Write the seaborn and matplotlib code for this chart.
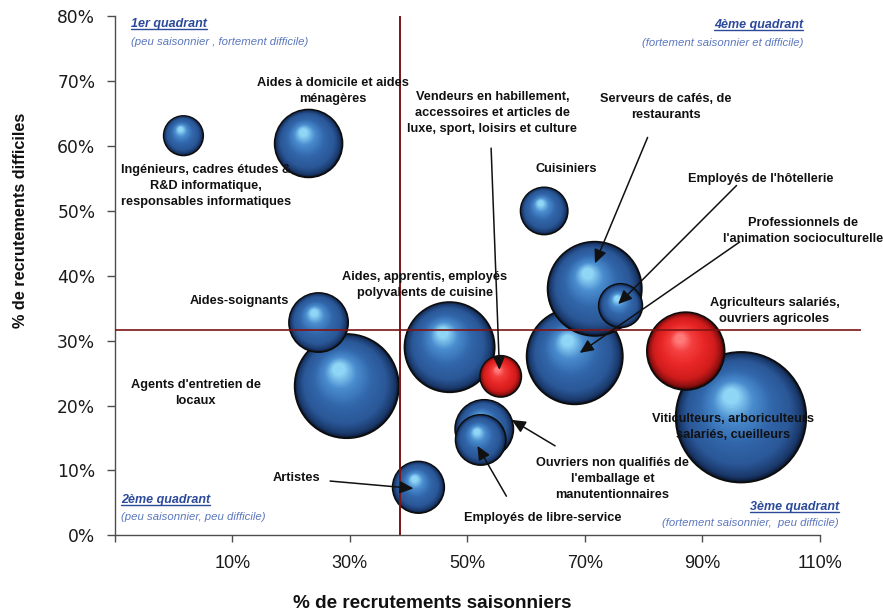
import numpy as np
import pandas as pd
import matplotlib
matplotlib.use("Agg")
import matplotlib.pyplot as plt
import seaborn as sns
from matplotlib import font_manager
from matplotlib.colors import to_rgb, to_hex
from matplotlib.lines import Line2D
from matplotlib.transforms import offset_copy

# ---------------------------------------------------------------- données
metiers = [
    "Ingénieurs, cadres études & R&D informatique, responsables informatiques",
    "Aides à domicile et aides ménagères",
    "Aides-soignants",
    "Agents d'entretien de locaux",
    "Aides, apprentis, employés polyvalents de cuisine",
    "Vendeurs en habillement, accessoires et articles de luxe, sport, loisirs et culture",
    "Ouvriers non qualifiés de l'emballage et manutentionnaires",
    "Employés de libre-service",
    "Artistes",
    "Professionnels de l'animation socioculturelle",
    "Serveurs de cafés, de restaurants",
    "Employés de l'hôtellerie",
    "Cuisiniers",
    "Agriculteurs salariés, ouvriers agricoles",
    "Viticulteurs, arboriculteurs salariés, cueilleurs",
]
saisonniers = [1.7, 23.0, 24.7, 29.5, 47.0, 55.7, 52.9, 52.3, 41.7, 68.3, 71.7, 76.1, 63.1, 87.2, 96.6]
difficiles = [61.6, 60.4, 32.8, 23.0, 29.0, 24.5, 16.4, 14.7, 7.4, 27.6, 38.0, 35.4, 50.0, 28.4, 18.2]
projets = [10.0, 29.6, 22.5, 70.0, 52.4, 10.9, 21.8, 16.2, 17.1, 59.6, 57.2, 12.2, 14.3, 38.9, 110.0]
groupe = ["bleu"] * 5 + ["rouge"] + ["bleu"] * 7 + ["rouge", "bleu"]

moyenne_saisonniers = 38.6
moyenne_difficiles = 31.7

x_ticks = [-10, 10, 30, 50, 70, 90, 110]
x_tick_labels = ["", "10%", "30%", "50%", "70%", "90%", "110%"]
y_ticks = [0, 10, 20, 30, 40, 50, 60, 70, 80]
y_tick_labels = ["0%", "10%", "20%", "30%", "40%", "50%", "60%", "70%", "80%"]

# ---------------------------------------------------------------- polices
sns.set_theme(style="white")
plt.rcParams["font.family"] = ["Liberation Sans", "DejaVu Sans"]
dispo = {f.name for f in font_manager.fontManager.ttflist}
if "Liberation Sans Narrow" in dispo:
    ETROITE = ["Liberation Sans Narrow", "DejaVu Sans"]
    T_ETIQ, T_XTICK, T_XLAB, T_YLAB, INTERLIGNE = 11, 15, 16, 14.3, 1.15
else:
    ETROITE = ["Liberation Sans", "DejaVu Sans"]
    T_ETIQ, T_XTICK, T_XLAB, T_YLAB, INTERLIGNE = 9.2, 13, 13.6, 11.7, 1.45

W, H = 883, 616
fig = plt.figure(figsize=(W / 100, H / 100), dpi=100)
ax = fig.add_axes([0.1299, 0.1310, 0.845, 0.8425])
XLIM, YLIM = (-10, 117), (0, 80)
ax.set_xlim(*XLIM)
ax.set_ylim(*YLIM)

# ---------------------------------------------------------------- bulles ombrées
DEGRADES = {
    "bleu": [(0.0, "#0c1c3a"), (0.06, "#1a396b"), (0.22, "#2a5797"),
             (0.5, "#3267ab"), (0.78, "#4a8dcf"), (1.0, "#8fd6f6")],
    "rouge": [(0.0, "#3c0404"), (0.06, "#8a1010"), (0.22, "#d01c1c"),
              (0.5, "#e82626"), (0.8, "#f44040"), (1.0, "#ff7a7a")],
}


def teinte(nom, t):
    stops = DEGRADES[nom]
    for (t0, c0), (t1, c1) in zip(stops[:-1], stops[1:]):
        if t <= t1:
            a = (t - t0) / (t1 - t0)
            c0, c1 = np.array(to_rgb(c0)), np.array(to_rgb(c1))
            return to_hex(c0 + a * (c1 - c0))
    return stops[-1][1]


V_MAX, S_MAX = 110.0, 8813.0
N_COUCHES = 40
REFLET = (-0.15, 0.32)  # position du reflet, en fraction du rayon

to_disp = ax.transData
to_data = ax.transData.inverted()
lignes = []
for i in np.argsort(projets, kind="stable")[::-1]:
    s = projets[i] / V_MAX * S_MAX
    r_px = np.sqrt(s) / 2 * fig.dpi / 72
    cx, cy = to_disp.transform((saisonniers[i], difficiles[i]))
    for k, t in enumerate(np.linspace(0, 1, N_COUCHES)):
        f = 1 - 0.88 * t
        px = cx + REFLET[0] * t * r_px
        py = cy + REFLET[1] * t * r_px
        dx, dy = to_data.transform((px, py))
        lignes.append({"x": dx, "y": dy, "taille": projets[i] * f * f,
                       "couleur": teinte(groupe[i], t), "bord": k == 0})
couches = pd.DataFrame(lignes)
palette = {c: c for c in couches["couleur"].unique()}

sns.scatterplot(data=couches, x="x", y="y", hue="couleur", palette=palette,
                size="taille", sizes=(0, S_MAX), size_norm=(0, V_MAX),
                legend=False, linewidth=0, ax=ax, zorder=3)
bulles = ax.collections[-1]
bulles.set_edgecolors([(0.05, 0.05, 0.05, 1) if b else (0, 0, 0, 0) for b in couches["bord"]])
bulles.set_linewidths([1.4 if b else 0 for b in couches["bord"]])

ax.set_xlim(*XLIM)
ax.set_ylim(*YLIM)
ax.set_xlabel("")
ax.set_ylabel("")

# ---------------------------------------------------------------- moyennes
ax.axvline(moyenne_saisonniers, color="#7d1414", lw=1.4, zorder=4)
ax.axhline(moyenne_difficiles, color="#7d1414", lw=1.2, zorder=4)

# ---------------------------------------------------------------- axes
for side in ("top", "right"):
    ax.spines[side].set_visible(False)
for side in ("left", "bottom"):
    ax.spines[side].set_color("#4d4d4d")
    ax.spines[side].set_linewidth(1.0)
ax.spines["bottom"].set_bounds(-10, 110)
ax.set_xticks(x_ticks)
ax.set_xticklabels(x_tick_labels, fontsize=T_XTICK, family=ETROITE, color="#1a1a1a")
ax.set_yticks(y_ticks)
ax.set_yticklabels(y_tick_labels, fontsize=12.3, family=["DejaVu Sans"], color="#1a1a1a")
ax.tick_params(axis="x", length=5, width=1, color="#4d4d4d", direction="out", pad=9, bottom=True)
ax.tick_params(axis="y", length=6, width=1, color="#4d4d4d", direction="out", pad=8, left=True)
ax.grid(False)

fig.text(432 / W, 1 - 603 / H, "% de recrutements saisonniers", ha="center", va="center",
         fontsize=T_XLAB, fontweight="bold", family=ETROITE, color="#111111")
fig.text(21 / W, 1 - 220 / H, "% de recrutements difficiles", ha="center", va="center",
         rotation=90, fontsize=T_YLAB, fontweight="bold", family=ETROITE, color="#111111")

# ---------------------------------------------------------------- étiquettes
etiquettes = [
    ("Aides à domicile et aides\nménagères", 27.1, 68.5),
    ("Ingénieurs, cadres études &\nR&D informatique,\nresponsables informatiques", 5.5, 53.9),
    ("Aides-soignants", 11.2, 36.15),
    ("Agents d'entretien de\nlocaux", 3.8, 22.0),
    ("Artistes", 21.0, 8.8),
    ("Aides, apprentis, employés\npolyvalents de cuisine", 42.8, 38.6),
    ("Vendeurs en habillement,\naccessoires et articles de\nluxe, sport, loisirs et culture", 54.3, 65.1),
    ("Cuisiniers", 66.8, 56.4),
    ("Serveurs de cafés, de\nrestaurants", 83.8, 66.0),
    ("Employés de l'hôtellerie", 99.9, 55.0),
    ("Professionnels de\nl'animation socioculturelle", 107.2, 46.9),
    ("Agriculteurs salariés,\nouvriers agricoles", 102.3, 34.6),
    ("Viticulteurs, arboriculteurs\nsalariés, cueilleurs", 95.2, 16.7),
    ("Ouvriers non qualifiés de\nl'emballage et\nmanutentionnaires", 74.7, 8.7),
    ("Employés de libre-service", 62.9, 2.7),
]
for texte, x, y in etiquettes:
    ax.text(x, y, texte, ha="center", va="center", multialignment="center",
            fontsize=T_ETIQ, fontweight="bold", family=ETROITE, color="#111111",
            linespacing=INTERLIGNE, zorder=6)

# flèches : (indice du métier, décalage de la pointe, décalage de l'origine) en points
fleches = [
    (5, (-0.9, 4.7), (-6.0, 159.6)),
    (10, (0.2, 18.3), (37.9, 90.7)),
    (11, (-1.7, 1.1), (85.2, 85.4)),
    (9, (3.6, 2.4), (115.2, 79.9)),
    (6, (19.8, 6.5), (31.2, -18.7)),
    (7, (-2.4, -4.3), (20.9, -36.2)),
    (8, (-3.6, -0.8), (-60.0, 5.3)),
]
for i, (hx, hy), (tx, ty) in fleches:
    ax.annotate("", xy=(saisonniers[i], difficiles[i]),
                xycoords=offset_copy(ax.transData, fig=fig, x=hx, y=hy, units="points"),
                xytext=(tx, ty), textcoords="offset points",
                arrowprops=dict(arrowstyle="-|>,head_length=0.55,head_width=0.25",
                                mutation_scale=15, color="#111111", lw=1.1,
                                shrinkA=0, shrinkB=0),
                zorder=6)

# ---------------------------------------------------------------- quadrants
TITRE, SOUS = "#2c4a9a", "#5a76bd"
quadrants = [
    ("1er quadrant", "(peu saisonnier , fortement difficile)", 131, 24, 42, "left"),
    ("4ème quadrant", "(fortement saisonnier et difficile)", 803, 25, 43, "right"),
    ("2ème quadrant", "(peu saisonnier, peu difficile)", 121, 500, 517, "left"),
    ("3ème quadrant", "(fortement saisonnier,  peu difficile)", 839, 507, 523, "right"),
]
titres = []
for titre, sous, x, y1, y2, ha in quadrants:
    t = fig.text(x / W, 1 - y1 / H, titre, ha=ha, va="center", fontsize=9,
                 fontweight="bold", fontstyle="italic", color=TITRE)
    fig.text(x / W, 1 - y2 / H, sous, ha=ha, va="center", fontsize=8.2,
             fontstyle="italic", color=SOUS)
    titres.append(t)

fig.canvas.draw()
renderer = fig.canvas.get_renderer()
for t in titres:
    bb = t.get_window_extent(renderer)
    yb = bb.y0 + 1.5
    fig.add_artist(Line2D([bb.x0 / W, bb.x1 / W], [yb / H, yb / H],
                          transform=fig.transFigure, color=TITRE, lw=1.0))

fig.savefig("out.png", dpi=100, facecolor="white")
